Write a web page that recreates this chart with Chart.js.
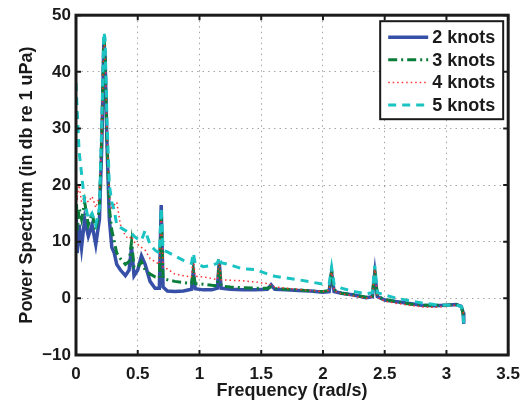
<!DOCTYPE html>
<html>
<head>
<meta charset="utf-8">
<script src="https://cdn.jsdelivr.net/npm/chart.js@4.4.1/dist/chart.umd.min.js"></script>
<style>
  body { margin: 0; background: #fff; }
  canvas { display: block; }
</style>
</head>
<body>
<canvas id="chartSpectrum" width="529" height="402"></canvas>
<script>
// frequency grid (rad/s) shared by all four curves
const freq = [0, 0.01, 0.025, 0.045, 0.07, 0.1, 0.13, 0.16, 0.19, 0.21,
  0.225, 0.235, 0.25, 0.27, 0.29, 0.31, 0.33, 0.36, 0.4, 0.43,
  0.45, 0.47, 0.5, 0.53, 0.56, 0.6, 0.64, 0.675, 0.69, 0.705,
  0.74, 0.8, 0.87, 0.935, 0.95, 0.965, 1.03, 1.1, 1.145, 1.16,
  1.175, 1.25, 1.35, 1.45, 1.55, 1.58, 1.61, 1.7, 1.8, 1.9,
  2.0, 2.05, 2.07, 2.09, 2.15, 2.25, 2.35, 2.4, 2.42, 2.44,
  2.5, 2.6, 2.7, 2.8, 2.9, 3.0, 3.08, 3.12, 3.135, 3.14];

const knots2 = [16, 8, 13, 9, 14, 11, 13, 9.5, 14, 28,
  45, 43, 28, 14, 9, 8, 6, 5, 4, 5,
  9, 4, 5, 7.5, 6, 3, 1.8, 1.8, 16.5, 2,
  1.3, 1.2, 1.3, 1.6, 4.8, 1.7, 1.5, 1.5, 1.8, 6.5,
  1.8, 1.6, 1.5, 1.5, 1.6, 2.4, 1.6, 1.5, 1.4, 1.3,
  1.1, 1.2, 4.5, 1.2, 0.9, 0.6, 0.1, 0.3, 4.5, 0.3,
  -0.3, -0.6, -0.9, -1.2, -1.3, -1.2, -1.1, -1.4, -2.5, -4.5];

const knots3 = [20, 12, 16, 14, 17, 13, 15, 12, 16, 30,
  46, 44, 28, 16, 12, 10, 8, 7, 6, 6.5,
  10, 5.5, 5.5, 6.5, 5, 4.3, 3.8, 3.6, 15, 3.5,
  3.3, 3.0, 2.8, 2.6, 4.8, 2.6, 2.5, 2.3, 2.2, 6,
  2.2, 2.0, 1.9, 1.8, 1.8, 2.0, 1.7, 1.6, 1.5, 1.3,
  1.2, 1.4, 5, 1.5, 0.9, 0.6, 0.2, 0.4, 5, 0.4,
  -0.2, -0.6, -1.0, -1.2, -1.2, -1.2, -1.1, -1.3, -2.8, -4];

const knots4 = [22, 18, 20, 17, 18, 17, 18, 16, 18, 30,
  46, 44, 30, 18, 16, 16.5, 17, 13, 11, 10.5,
  11, 10, 9.5, 9, 8.5, 7, 6.5, 6, 15.5, 5.5,
  5.2, 4.3, 4.0, 3.8, 7.3, 3.9, 3.8, 3.5, 3.3, 7,
  3.3, 3.2, 3.1, 2.9, 2.6, 2.4, 2.0, 1.8, 1.6, 1.4,
  1.2, 1.4, 5, 1.3, 0.8, 0.4, 0, 0.3, 5.5, 0.2,
  -0.5, -0.9, -1.2, -1.5, -1.6, -1.4, -1.2, -1.5, -2.5, -4];

const knots5 = [38, 33, 26, 22, 17, 14, 15, 13, 16, 32,
  47, 46, 32, 20, 17, 15.5, 13, 12.5, 12, 11.5,
  11.5, 11, 10.5, 10.2, 12, 9.5, 8.5, 8, 16, 8.5,
  8.2, 7.5, 6.7, 6.2, 8, 6.2, 5.6, 5.8, 6.2, 7.3,
  6.3, 5.9, 5.2, 5.1, 4.3, 4.1, 3.9, 3.6, 3.3, 2.9,
  2.5, 2.6, 5.5, 2.5, 1.8, 1.2, 0.8, 1, 5.8, 1,
  0.6, 0, -0.4, -0.8, -1.1, -1.2, -1.2, -1.4, -2.8, -4.5];

const seriesNames = ["2 knots", "3 knots", "4 knots", "5 knots"];
const xTicks = [0, 0.5, 1, 1.5, 2, 2.5, 3, 3.5];
const xTickLabels = ["0", "0.5", "1", "1.5", "2", "2.5", "3", "3.5"];
const yTicks = [-10, 0, 10, 20, 30, 40, 50];
const yTickLabels = ["\u221210", "0", "10", "20", "30", "40", "50"];

const toPoints = (ys) => freq.map((f, i) => ({ x: f, y: ys[i] }));

const FONT = "'Liberation Sans', Arial, sans-serif";

const styles = [
  { color: "#3650a8", width: 3.5, dash: [] },
  { color: "#0b7d3b", width: 3, dash: [9, 4, 2, 4] },
  { color: "#ff3030", width: 1.5, dash: [1.5, 3] },
  { color: "#1cc3c3", width: 3, dash: [8, 6] },
];

const data = {
  datasets: [knots2, knots3, knots4, knots5].map((ys, i) => ({
    label: seriesNames[i],
    data: toPoints(ys),
    borderColor: styles[i].color,
    borderWidth: styles[i].width,
    borderDash: styles[i].dash,
    pointRadius: 0,
    tension: 0,
    fill: false,
    order: 4 - i, // later series drawn on top, like the original
  })),
};

// box frame with inward ticks, and the legend inside the plot
const framePlugin = {
  id: "frame",
  afterDraw(chart) {
    const { ctx, chartArea: a, scales } = chart;
    ctx.save();
    ctx.strokeStyle = "#1a1a1a";
    ctx.lineWidth = 2;
    xTicks.forEach((v) => {
      const x = scales.x.getPixelForValue(v);
      ctx.beginPath();
      ctx.moveTo(x, a.bottom); ctx.lineTo(x, a.bottom - 5);
      ctx.moveTo(x, a.top); ctx.lineTo(x, a.top + 5);
      ctx.stroke();
    });
    yTicks.forEach((v) => {
      const y = scales.y.getPixelForValue(v);
      ctx.beginPath();
      ctx.moveTo(a.left, y); ctx.lineTo(a.left + 5, y);
      ctx.moveTo(a.right, y); ctx.lineTo(a.right - 5, y);
      ctx.stroke();
    });
    ctx.lineWidth = 3;
    ctx.strokeRect(a.left, a.top, a.right - a.left, a.bottom - a.top);

    // legend
    const lx = a.right - 128, ly = a.top + 6, lw = 123, lh = 98;
    ctx.fillStyle = "#fff";
    ctx.fillRect(lx, ly, lw, lh);
    ctx.lineWidth = 2;
    ctx.strokeRect(lx, ly, lw, lh);
    ctx.font = "bold 18px " + FONT;
    ctx.textBaseline = "middle";
    ctx.textAlign = "left";
    seriesNames.forEach((name, i) => {
      const yy = ly + 16 + i * 22.6;
      ctx.save();
      ctx.strokeStyle = styles[i].color;
      ctx.lineWidth = styles[i].width;
      ctx.setLineDash(styles[i].dash);
      ctx.beginPath();
      ctx.moveTo(lx + 8, yy); ctx.lineTo(lx + 48, yy);
      ctx.stroke();
      ctx.restore();
      ctx.fillStyle = "#1a1a1a";
      ctx.fillText(name, lx + 52, yy + 1);
    });
    ctx.restore();
  },
};

const config = {
  type: "line",
  data,
  options: {
    responsive: false,
    animation: false,
    layout: { padding: { top: 13, right: 19, left: 0, bottom: 0 } },
    plugins: { legend: { display: false }, tooltip: { enabled: false } },
    scales: {
      x: {
        type: "linear",
        min: 0,
        max: 3.5,
        afterFit: (scale) => { scale.height = 47; },
        afterBuildTicks: (scale) => { scale.ticks = xTicks.map((v) => ({ value: v })); },
        ticks: {
          color: "#1a1a1a",
          font: { family: FONT, size: 17, weight: "bold" },
          padding: 9,
          maxRotation: 0,
          callback: (v) => xTickLabels[xTicks.indexOf(v)],
        },
        grid: { color: "rgba(0,0,0,0.35)", lineWidth: 1, drawTicks: false },
        border: { display: false, dash: [1.5, 4] },
        title: {
          display: true,
          text: "Frequency (rad/s)",
          color: "#1a1a1a",
          font: { family: FONT, size: 18, weight: "bold" },
          padding: { top: 0, bottom: 0 },
        },
      },
      y: {
        min: -10,
        max: 50,
        afterFit: (scale) => { scale.width = 76; },
        afterBuildTicks: (scale) => { scale.ticks = yTicks.map((v) => ({ value: v })); },
        ticks: {
          color: "#1a1a1a",
          font: { family: FONT, size: 17, weight: "bold" },
          padding: 5,
          callback: (v) => yTickLabels[yTicks.indexOf(v)],
        },
        grid: { color: "rgba(0,0,0,0.35)", lineWidth: 1, drawTicks: false },
        border: { display: false, dash: [1.5, 4] },
        title: {
          display: true,
          text: "Power Spectrum (in db re 1 uPa)",
          color: "#1a1a1a",
          font: { family: FONT, size: 18, weight: "bold" },
          padding: { top: 16, bottom: 0 },
        },
      },
    },
  },
  plugins: [framePlugin],
};

const chartSpectrum = new Chart(document.getElementById("chartSpectrum"), config);
</script>
</body>
</html>
